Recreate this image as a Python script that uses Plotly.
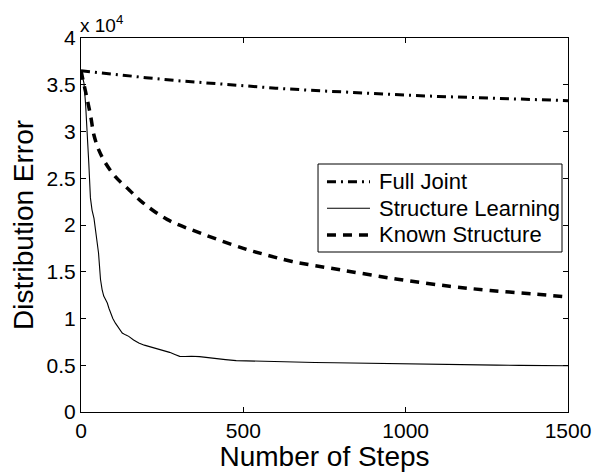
import plotly.graph_objects as go

# Steps at which each error curve was sampled
full_steps = [0, 100, 200, 300, 400, 500, 600, 700, 800, 900, 1000,
              1100, 1200, 1300, 1400, 1500]
full_error = [36500, 36100, 35760, 35430, 35150, 34880, 34630, 34420, 34230,
              34050, 33890, 33750, 33620, 33500, 33400, 33300]

learn_steps = [0, 4, 9, 14, 19, 24, 29, 34, 40, 45, 50, 54, 57, 60, 65, 70,
               76, 81, 86, 91, 98, 106, 116, 127, 137, 147, 162, 178, 195,
               211, 220, 240, 260, 273, 291, 304, 320, 340, 365, 390, 417,
               445, 478, 520, 550, 581, 620, 660, 720, 780, 850, 920, 976,
               1050, 1120, 1200, 1280, 1350, 1420, 1500]
learn_error = [36500, 36000, 35200, 33000, 30200, 26640, 22900, 21600, 20700,
               19500, 18400, 17000, 15600, 14200, 13100, 12400, 12000, 11650,
               11100, 10600, 10000, 9500, 8950, 8450, 8250, 8090, 7700, 7380,
               7150, 7000, 6850, 6650, 6480, 6380, 6130, 5950, 5940, 5970,
               5920, 5800, 5700, 5600, 5490, 5470, 5430, 5410, 5370, 5330,
               5300, 5260, 5220, 5170, 5110, 5090, 5070, 5040, 5010, 4990,
               4970, 4950]

known_steps = [0, 10, 20, 30, 40, 55, 75, 105, 150, 190, 265, 370, 500, 560,
               650, 800, 975, 1135, 1260, 1400, 1500]
known_error = [36500, 34900, 33300, 31600, 29600, 28000, 26650, 25200, 23700,
               22400, 20600, 19100, 17500, 16900, 16100, 15200, 14200, 13450,
               13000, 12600, 12300]

series_names = ["Full Joint", "Structure Learning", "Known Structure"]

y_ticks = [0, 5000, 10000, 15000, 20000, 25000, 30000, 35000, 40000]
y_tick_text = ["0", "0.5", "1", "1.5", "2", "2.5", "3", "3.5", "4"]
x_ticks = [0, 500, 1000, 1500]

FONT = "Liberation Sans, Arial, Helvetica, sans-serif"

styles = [
    dict(color="black", width=3, dash="9px,5px,2px,5px"),
    dict(color="black", width=1.1),
    dict(color="black", width=3.5, dash="9px,7px"),
]

fig = go.Figure()
fig.add_trace(go.Scatter(x=full_steps, y=full_error, mode="lines",
                         name=series_names[0], line=styles[0]))
fig.add_trace(go.Scatter(x=learn_steps, y=learn_error, mode="lines",
                         name=series_names[1], line=styles[1]))
fig.add_trace(go.Scatter(x=known_steps, y=known_error, mode="lines",
                         name=series_names[2],
                         line=dict(styles[2], shape="spline")))

axis_common = dict(
    showline=True, linecolor="black", linewidth=1, mirror="ticks",
    ticks="inside", ticklen=5, tickcolor="black", tickwidth=1,
    showgrid=False, zeroline=False, automargin=False,
    tickfont=dict(family=FONT, size=21, color="black"),
)

fig.update_xaxes(
    range=[0, 1500], tickvals=x_ticks,
    title=dict(text="Number of Steps",
               font=dict(family=FONT, size=28, color="black"), standoff=0),
    **axis_common)
fig.update_yaxes(
    range=[0, 40000], tickvals=y_ticks, ticktext=y_tick_text,
    title=dict(text="Distribution Error",
               font=dict(family=FONT, size=28, color="black"), standoff=4),
    **axis_common)

# exponent label of the y axis
fig.add_annotation(
    xref="paper", yref="paper", x=0, y=1, xanchor="left", yanchor="bottom",
    text="x 10<sup>4</sup>", showarrow=False, xshift=-3, yshift=0,
    font=dict(family=FONT, size=19, color="black"))

# boxed legend in the MATLAB style: frame, line samples and labels
box_x0, box_x1, box_y0, box_y1 = 0.4867, 0.9877, 0.4278, 0.6631
sample_x0, sample_x1, label_x = 0.5051, 0.5934, 0.6078
row_y = [0.6158, 0.5447, 0.4733]

fig.add_shape(type="rect", xref="paper", yref="paper",
              x0=box_x0, x1=box_x1, y0=box_y0, y1=box_y1,
              line=dict(color="black", width=1), fillcolor="white",
              layer="above")
for name, style, yy in zip(series_names, styles, row_y):
    fig.add_shape(type="line", xref="paper", yref="paper",
                  x0=sample_x0, x1=sample_x1, y0=yy, y1=yy,
                  line=style, layer="above")
    fig.add_annotation(xref="paper", yref="paper", x=label_x, y=yy,
                       xanchor="left", yanchor="middle", text=name,
                       showarrow=False,
                       font=dict(family=FONT, size=22, color="black"))

fig.update_layout(
    width=595, height=472,
    margin=dict(l=81, r=27, t=38, b=60),
    paper_bgcolor="white", plot_bgcolor="white",
    font=dict(family=FONT, color="black"),
    showlegend=False,
)

fig.write_html("out.html")
